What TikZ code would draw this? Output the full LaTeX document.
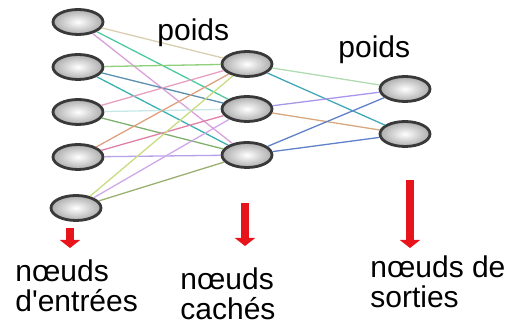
\documentclass[tikz,border=0pt]{standalone}
\usepackage{fontspec}
\setmainfont{Liberation Sans}[Ligatures=TeXOff]
\usetikzlibrary{arrows.meta, shapes.geometric}
\definecolor{rougefleche}{RGB}{232,20,28}
\tikzset{
    neurone/.style={
        ellipse, minimum width=25pt, minimum height=12.5pt, inner sep=0pt,
        draw=gray!45!black, line width=1.4pt,
        inner color=white, outer color=gray!65
    },
    poids/.style={line width=0.65pt},
    fleche/.style={
        draw=rougefleche, line width=4pt,
        -{Triangle[width=10pt, length=4pt]}
    },
    legende/.style={
        align=left, inner sep=0pt, anchor=base west,
        font=\fontsize{15pt}{15pt}\selectfont
    }
}

\begin{document}
\begin{tikzpicture}[x=0.5pt, y=-0.5pt]

    \useasboundingbox (0,0) rectangle (510,324);

    % couches
    \node[neurone] (e1) at (78, 22) {};
    \node[neurone] (e2) at (78, 67) {};
    \node[neurone] (e3) at (78, 112) {};
    \node[neurone] (e4) at (78, 157) {};
    \node[neurone] (e5) at (76, 208) {};

    \node[neurone] (c1) at (247, 64) {};
    \node[neurone] (c2) at (247, 109) {};
    \node[neurone] (c3) at (247, 155) {};

    \node[neurone] (s1) at (405, 89) {};
    \node[neurone] (s2) at (405, 134) {};

    % poids entree -> cache
    \draw[poids, color={rgb,255:red,216;green,207;blue,176}] (e1) -- (c1);
    \draw[poids, color={rgb,255:red,77;green,201;blue,160}] (e1) -- (c2);
    \draw[poids, color={rgb,255:red,217;green,160;blue,217}] (e1) -- (c3);
    \draw[poids, color={rgb,255:red,143;green,208;blue,122}] (e2) -- (c1);
    \draw[poids, color={rgb,255:red,90;green,143;blue,176}] (e2) -- (c2);
    \draw[poids, color={rgb,255:red,58;green,176;blue,176}] (e2) -- (c3);
    \draw[poids, color={rgb,255:red,232;green,160;blue,192}] (e3) -- (c1);
    \draw[poids, color={rgb,255:red,200;green,232;blue,232}] (e3) -- (c2);
    \draw[poids, color={rgb,255:red,127;green,176;blue,112}] (e3) -- (c3);
    \draw[poids, color={rgb,255:red,224;green,160;blue,128}] (e4) -- (c1);
    \draw[poids, color={rgb,255:red,224;green,127;blue,168}] (e4) -- (c2);
    \draw[poids, color={rgb,255:red,184;green,160;blue,232}] (e4) -- (c3);
    \draw[poids, color={rgb,255:red,200;green,220;blue,128}] (e5) -- (c1);
    \draw[poids, color={rgb,255:red,208;green,168;blue,232}] (e5) -- (c2);
    \draw[poids, color={rgb,255:red,154;green,176;blue,112}] (e5) -- (c3);

    % poids cache -> sortie
    \draw[poids, color={rgb,255:red,176;green,220;blue,176}] (c1) -- (s1);
    \draw[poids, color={rgb,255:red,64;green,168;blue,184}] (c1) -- (s2);
    \draw[poids, color={rgb,255:red,168;green,150;blue,232}] (c2) -- (s1);
    \draw[poids, color={rgb,255:red,216;green,168;blue,128}] (c2) -- (s2);
    \draw[poids, color={rgb,255:red,96;green,128;blue,200}] (c3) -- (s1);
    \draw[poids, color={rgb,255:red,96;green,128;blue,200}] (c3) -- (s2);

    \node[legende] (p1) at (157, 41) {poids};
    \node[legende] (p2) at (338, 58) {poids};

    % fleches
    \coordinate (fe) at (70, 228);
    \coordinate (fc) at (245, 203);
    \coordinate (fs) at (410, 180);
    \draw[fleche] (fe) -- ++(0, 20);
    \draw[fleche] (fc) -- ++(0, 43);
    \draw[fleche] (fs) -- ++(0, 68);

    % la base est celle de la derniere ligne
    \node[legende] (le) at (15, 312) {nœuds\\d'entrées};
    \node[legende] (lc) at (180, 320) {nœuds\\cachés};
    \node[legende] (ls) at (370, 308) {nœuds de\\sorties};

\end{tikzpicture}
\end{document}
